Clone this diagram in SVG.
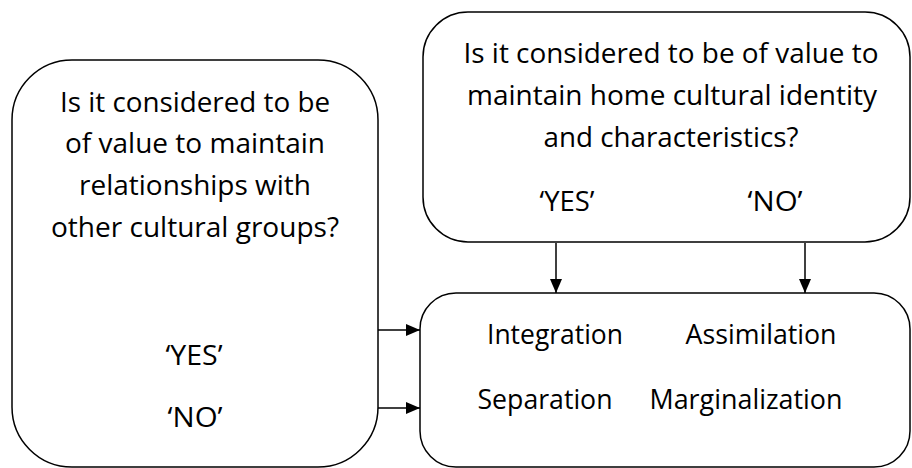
<svg xmlns="http://www.w3.org/2000/svg" width="912" height="468" viewBox="0 0 912 468">
<style>
.box{fill:#fff;stroke:#000;stroke-width:1.5}
.t{font-family:"Open Sans","Noto Sans",sans-serif;font-size:26.5px;fill:#000;text-anchor:middle}
.c{stroke:#000;stroke-width:1.5;fill:none}
</style>
<defs>
<marker id="ah2" viewBox="0 0 14 12" refX="14" refY="6" markerWidth="14" markerHeight="12" markerUnits="userSpaceOnUse" orient="auto">
<path d="M0,0 L14,6 L0,12 Z" fill="#000"/>
</marker>
</defs>
<g id="left-question">
<rect class="box" x="12" y="60" width="366" height="407" rx="60" ry="60"/>
<text class="t" x="195" y="112" textLength="270" lengthAdjust="spacingAndGlyphs">Is it considered to be</text>
<text class="t" x="195" y="153" textLength="260" lengthAdjust="spacingAndGlyphs">of value to maintain</text>
<text class="t" x="195" y="195" textLength="232" lengthAdjust="spacingAndGlyphs">relationships with</text>
<text class="t" x="195" y="237" textLength="288" lengthAdjust="spacingAndGlyphs">other cultural groups?</text>
<text class="t" x="194" y="365" textLength="57" lengthAdjust="spacingAndGlyphs">‘YES’</text>
<text class="t" x="195" y="427" textLength="55" lengthAdjust="spacingAndGlyphs">‘NO’</text>
</g>
<g id="top-question">
<rect class="box" x="423" y="12" width="487" height="230" rx="45" ry="45"/>
<text class="t" x="671" y="63" textLength="415" lengthAdjust="spacingAndGlyphs">Is it considered to be of value to</text>
<text class="t" x="672" y="105" textLength="410" lengthAdjust="spacingAndGlyphs">maintain home cultural identity</text>
<text class="t" x="671" y="147" textLength="255" lengthAdjust="spacingAndGlyphs">and characteristics?</text>
<text class="t" x="567" y="211" textLength="55" lengthAdjust="spacingAndGlyphs">‘YES’</text>
<text class="t" x="775" y="211" textLength="55" lengthAdjust="spacingAndGlyphs">‘NO’</text>
</g>
<g id="outcomes">
<rect class="box" x="420" y="293" width="490" height="174" rx="36" ry="36"/>
<text class="t" x="555" y="344" textLength="136" lengthAdjust="spacingAndGlyphs">Integration</text>
<text class="t" x="761" y="344" textLength="151" lengthAdjust="spacingAndGlyphs">Assimilation</text>
<text class="t" x="545" y="409" textLength="135" lengthAdjust="spacingAndGlyphs">Separation</text>
<text class="t" x="746" y="409" textLength="193" lengthAdjust="spacingAndGlyphs">Marginalization</text>
</g>
<g id="connectors">
<line class="c" x1="556" y1="243" x2="556" y2="293" marker-end="url(#ah2)"/>
<line class="c" x1="805" y1="243" x2="805" y2="293" marker-end="url(#ah2)"/>
<line class="c" x1="378" y1="330" x2="420" y2="330" marker-end="url(#ah2)"/>
<line class="c" x1="378" y1="408" x2="420" y2="408" marker-end="url(#ah2)"/>
</g>
</svg>
